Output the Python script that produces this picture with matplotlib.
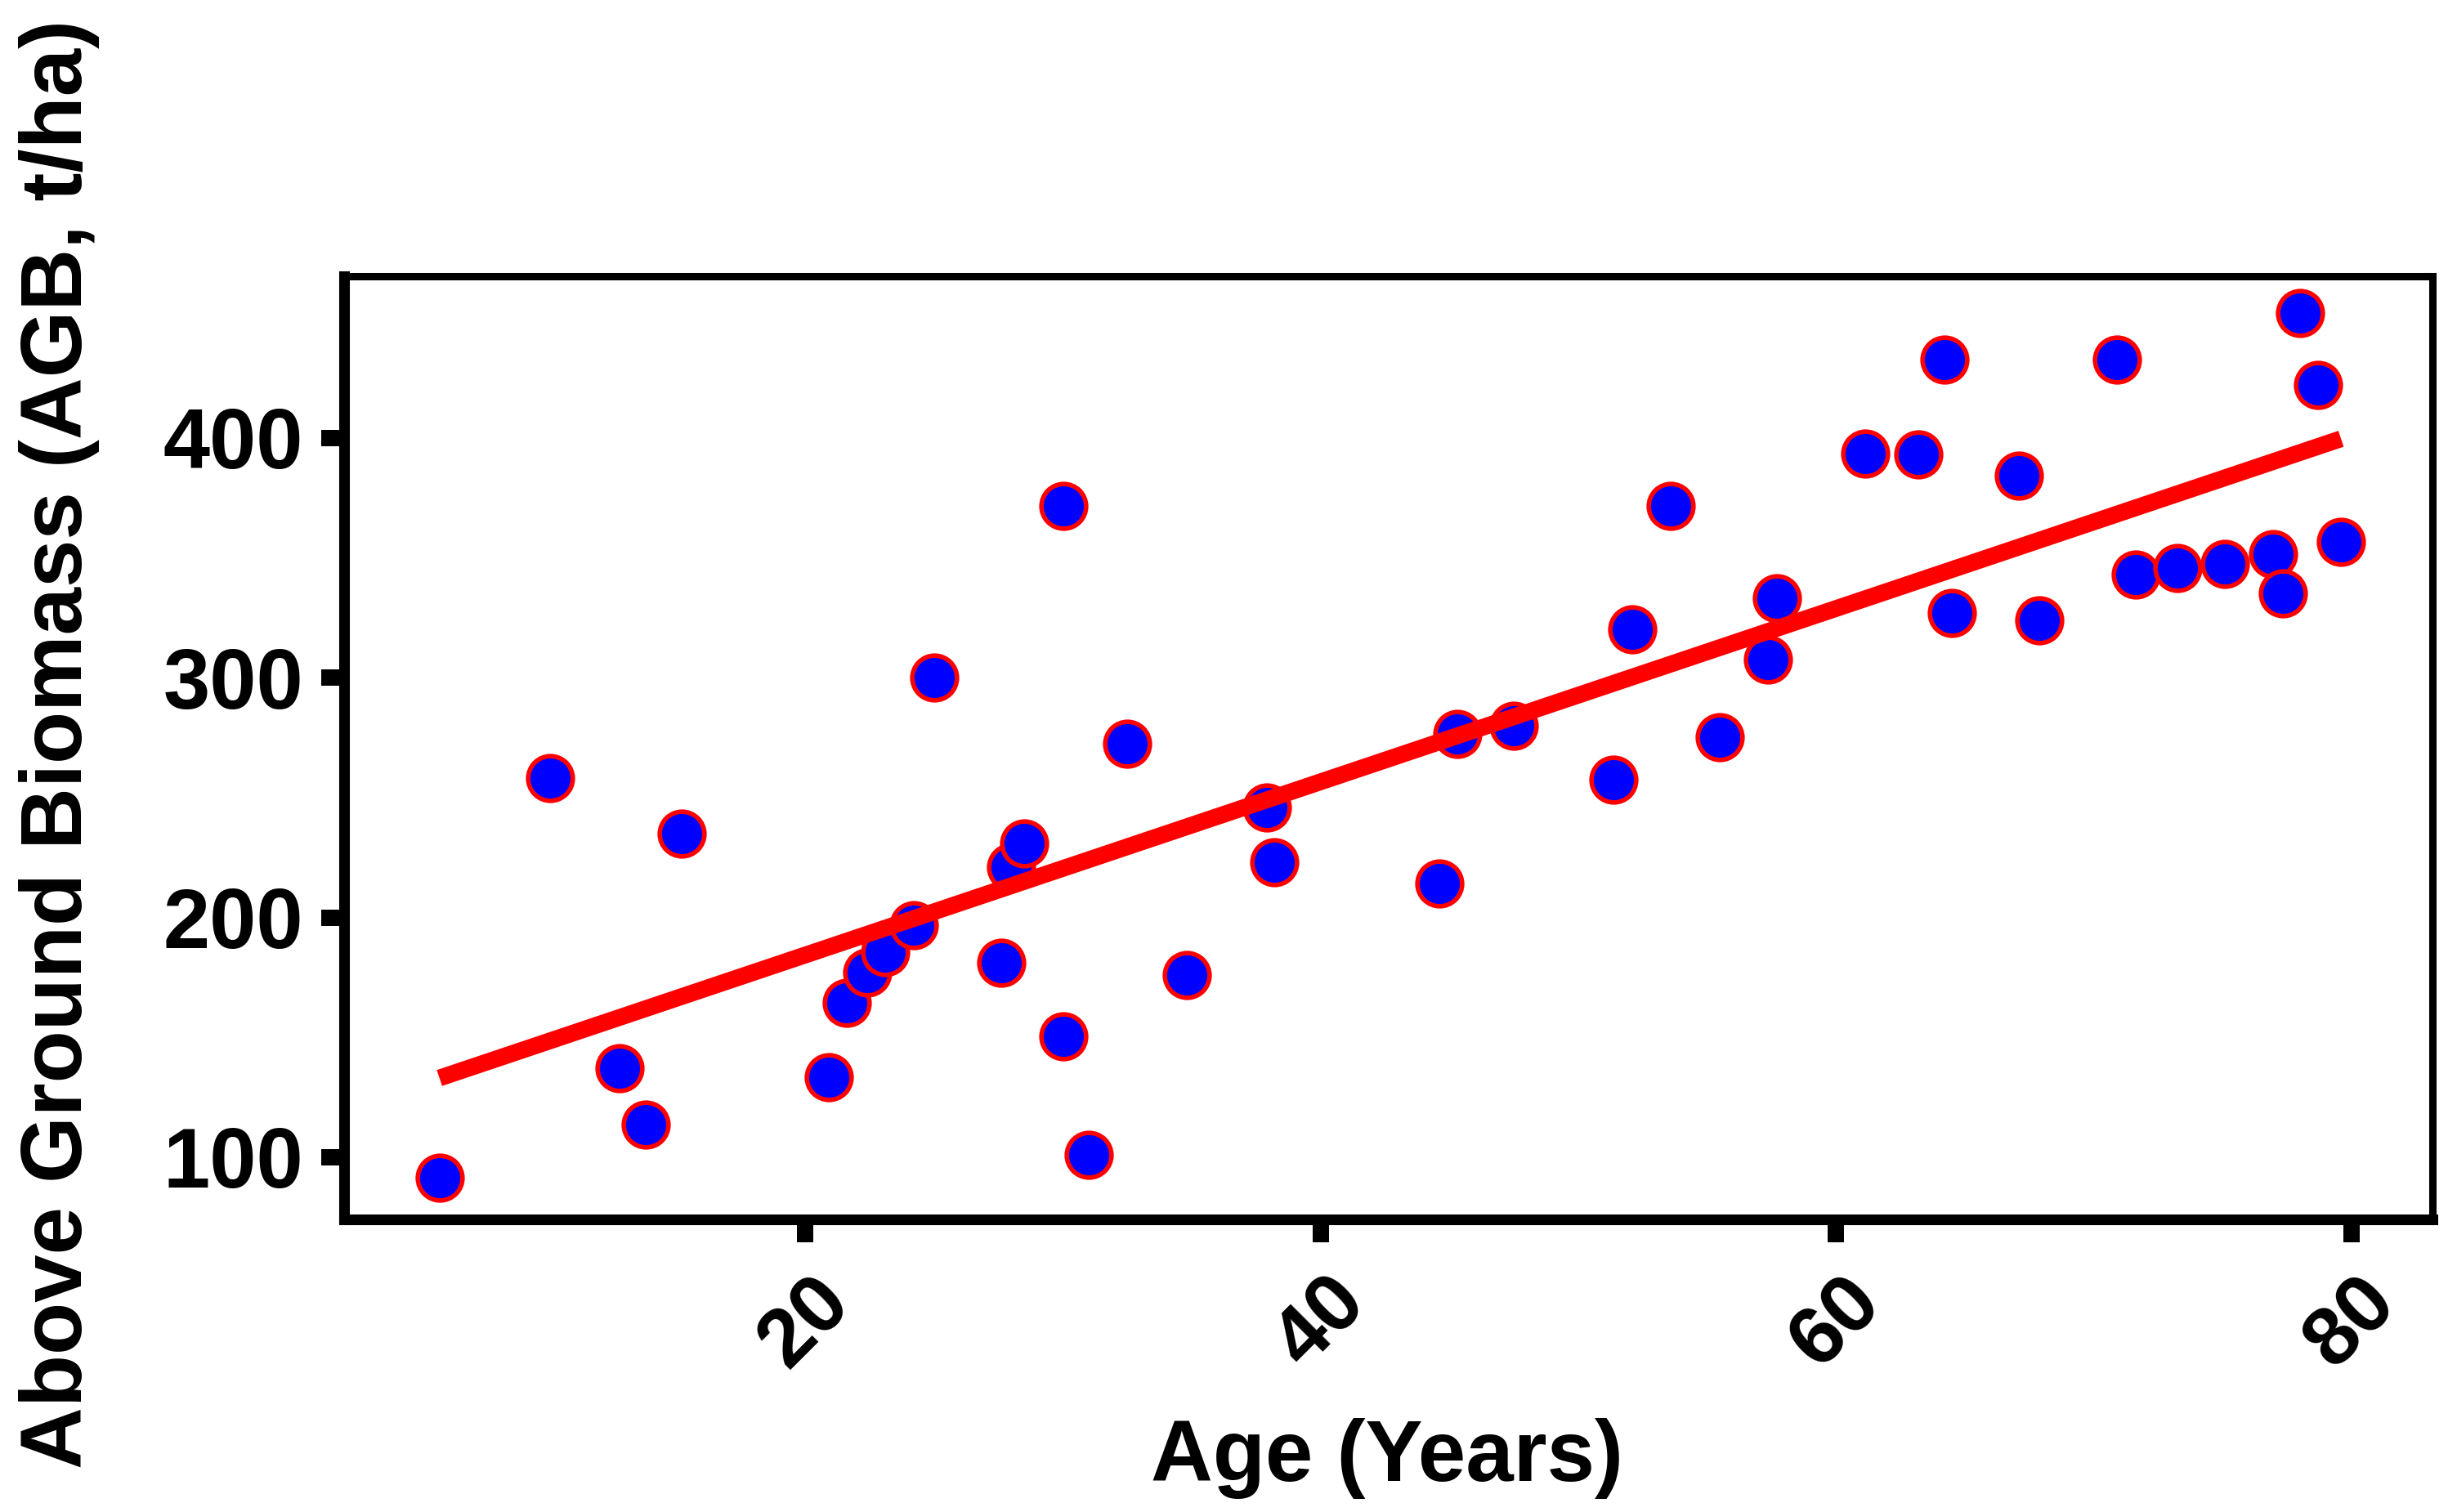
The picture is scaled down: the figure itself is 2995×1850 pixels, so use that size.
import numpy as np
import matplotlib
matplotlib.use("Agg")
import matplotlib.pyplot as plt

# Data
age_years = [5.8, 10.1, 12.8, 13.8, 15.2, 20.9, 21.6, 22.4, 23.1, 24.2,
             25.0, 27.6, 28.0, 28.5, 30.0, 30.0, 31.0, 32.5, 34.8, 37.9,
             38.2, 44.6, 45.3, 47.5, 51.35, 52.1, 53.6, 55.5, 57.35, 57.7,
             61.15, 63.2, 64.2, 64.5, 67.1, 67.9, 70.9, 71.65, 73.25, 75.1,
             76.95, 77.35, 78.0, 78.7, 79.6]
agb_t_ha = [91.5, 258, 137, 113.5, 235, 133.4, 164.4, 177, 185.5, 196.8,
            300, 181, 221, 231, 371.5, 150.4, 101, 272.5, 176, 246,
            223, 214, 276.5, 280, 257.5, 320, 371.5, 275, 307.5, 333,
            393.5, 393, 432.5, 327, 384, 324, 432.5, 343, 345.7, 347.4,
            351.4, 335, 452, 422, 356.6]
x_ticks = [20, 40, 60, 80]
y_ticks = [100, 200, 300, 400]
x_label = "Age (Years)"
y_label = "Above Ground Biomass (AGB, t/ha)"

plt.rcParams['font.family'] = ['Liberation Sans', 'DejaVu Sans']
plt.rcParams['font.weight'] = 'bold'

x = np.array(age_years)
y = np.array(agb_t_ha)

fig = plt.figure(figsize=(29.95, 18.5), dpi=100)
ax = fig.add_axes([0.14057, 0.19351, 0.85309, 0.62378])

ax.scatter(x, y, s=1550, facecolor='#0000FF', edgecolor='#FF0000',
           linewidth=4.0, zorder=2)

slope, intercept = np.polyfit(x, y, 1)
xs = np.array([x.min(), x.max()])
ax.plot(xs, intercept + slope * xs, color='#FF0000', lw=14.8,
        solid_capstyle='butt', zorder=3)

ax.set_xlim(2.1, 83.15)
ax.set_ylim(74.1, 467.3)
ax.set_xticks(x_ticks)
ax.set_yticks(y_ticks)
ax.set_xticklabels([str(t) for t in x_ticks], rotation=45, ha='center',
                   va='top', fontsize=73, fontweight='bold')
ax.set_yticklabels([str(t) for t in y_ticks], fontsize=74, fontweight='bold')

for side in ['left', 'bottom']:
    ax.spines[side].set_linewidth(9.4)
for side in ['top', 'right']:
    ax.spines[side].set_linewidth(6.5)
ax.tick_params(axis='both', direction='out', length=20, width=14.4,
               color='black')
ax.tick_params(axis='y', pad=16)
ax.tick_params(axis='x', pad=18)

ax.set_xlabel(x_label, fontsize=75.6, fontweight='bold')
ax.set_ylabel(y_label, fontsize=75.6, fontweight='bold')
ax.xaxis.set_label_coords(0.5667, 0.02054, transform=fig.transFigure)
ax.xaxis.label.set_va('baseline')
ax.yaxis.set_label_coords(0.0334, 0.5081, transform=fig.transFigure)
ax.yaxis.label.set_va('baseline')

fig.savefig("out.png", dpi=100, facecolor='white')
